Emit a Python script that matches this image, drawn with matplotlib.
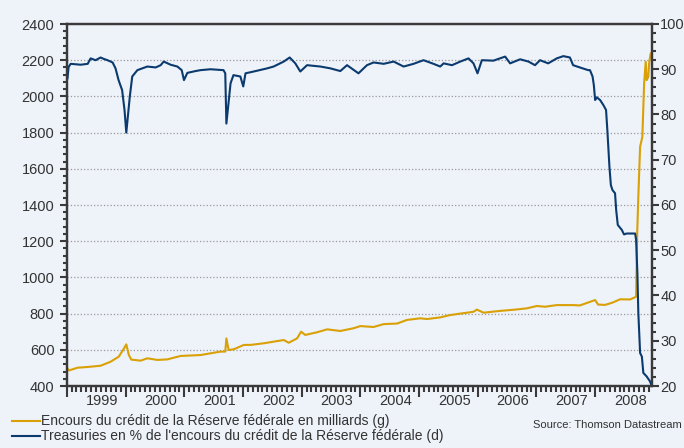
import matplotlib
matplotlib.use('Agg')
import matplotlib.pyplot as plt
import matplotlib.dates as mdates
import pandas as pd
from matplotlib.lines import Line2D
from matplotlib.ticker import MultipleLocator

plt.rcParams['font.family'] = ['Liberation Sans', 'DejaVu Sans']

# Encours du credit de la Fed (milliards $), axe gauche
credit_dates = ['1999-01-04', '1999-01-13', '1999-02-04', '1999-03-07', '1999-05-08', '1999-07-29',
                '1999-09-29', '1999-11-19', '1999-12-16', '2000-01-05', '2000-01-21', '2000-02-05',
                '2000-04-03', '2000-05-15', '2000-07-16', '2000-09-16', '2000-12-08', '2001-04-11',
                '2001-08-13', '2001-09-12', '2001-09-19', '2001-10-03', '2001-11-04', '2002-01-06',
                '2002-02-16', '2002-05-10', '2002-07-10', '2002-09-11', '2002-10-12', '2002-12-03',
                '2002-12-28', '2003-01-23', '2003-04-07', '2003-06-08', '2003-08-29', '2003-11-19',
                '2004-01-01', '2004-03-23', '2004-05-25', '2004-08-16', '2004-10-17', '2005-01-08',
                '2005-02-19', '2005-05-12', '2005-07-13', '2005-09-14', '2005-12-05', '2005-12-26',
                '2006-02-06', '2006-05-20', '2006-08-21', '2006-11-01', '2007-01-03', '2007-02-23',
                '2007-05-07', '2007-08-17', '2007-09-28', '2008-01-01', '2008-01-19', '2008-03-03',
                '2008-04-16', '2008-06-05', '2008-08-06', '2008-09-12', '2008-09-19', '2008-09-26',
                '2008-10-07', '2008-10-21', '2008-11-01', '2008-11-11', '2008-11-17', '2008-11-27',
                '2008-12-03', '2008-12-12']
credit_values = [498, 486, 492, 501, 505, 512, 534, 562, 599, 630, 571, 546, 540, 553, 544, 547, 566,
                 571, 590, 590, 663, 599, 603, 627, 627, 636, 645, 654, 639, 663, 700, 682, 697, 713,
                 704, 719, 731, 726, 742, 745, 765, 774, 770, 779, 792, 800, 810, 822, 805, 815, 822,
                 829, 842, 838, 847, 847, 845, 875, 850, 848, 860, 879, 878, 893, 1250, 1450, 1722,
                 1777, 2072, 2192, 2090, 2108, 2192, 2237]

# Treasuries en % de l'encours, axe droit
treas_dates = ['1999-01-04', '1999-01-11', '1999-01-24', '1999-03-27', '1999-05-10', '1999-05-28',
               '1999-06-28', '1999-07-29', '1999-08-17', '1999-09-10', '1999-10-12', '1999-10-30',
               '1999-11-18', '1999-12-10', '1999-12-25', '2000-01-05', '2000-01-27', '2000-02-11',
               '2000-03-14', '2000-05-15', '2000-07-06', '2000-08-06', '2000-08-25', '2000-10-07',
               '2000-11-18', '2000-12-15', '2000-12-29', '2001-01-19', '2001-03-11', '2001-04-11',
               '2001-06-12', '2001-09-01', '2001-09-12', '2001-09-19', '2001-10-15', '2001-11-02',
               '2001-12-15', '2002-01-02', '2002-01-16', '2002-03-08', '2002-05-31', '2002-07-10',
               '2002-09-11', '2002-10-18', '2002-11-22', '2002-12-23', '2003-02-03', '2003-04-27',
               '2003-06-28', '2003-08-29', '2003-10-10', '2003-12-20', '2004-02-11', '2004-03-23',
               '2004-05-25', '2004-07-26', '2004-09-26', '2004-11-27', '2005-01-28', '2005-03-31',
               '2005-05-12', '2005-06-02', '2005-07-24', '2005-09-14', '2005-11-04', '2005-12-05',
               '2005-12-30', '2006-01-26', '2006-04-08', '2006-06-20', '2006-07-21', '2006-09-21',
               '2006-11-12', '2006-12-23', '2007-01-23', '2007-03-15', '2007-05-07', '2007-06-17',
               '2007-07-28', '2007-08-17', '2007-09-28', '2007-11-19', '2007-11-30', '2007-12-16',
               '2007-12-24', '2008-01-01', '2008-01-11', '2008-02-01', '2008-02-21', '2008-03-09',
               '2008-03-17', '2008-03-30', '2008-04-08', '2008-04-18', '2008-05-04', '2008-05-11',
               '2008-05-21', '2008-06-15', '2008-06-29', '2008-07-16', '2008-09-06', '2008-09-12',
               '2008-09-20', '2008-09-26', '2008-10-07', '2008-10-18', '2008-10-27', '2008-11-17',
               '2008-12-08', '2008-12-14']
treas_values = [88.0, 90.5, 91.2, 91.0, 91.2, 92.4, 92.0, 92.6, 92.3, 92.0, 91.5, 90.2, 87.6, 85.4,
                81.0, 76.0, 84.0, 88.4, 89.8, 90.6, 90.4, 90.9, 91.7, 91.0, 90.6, 89.8, 87.6, 89.2,
                89.6, 89.8, 90.0, 89.8, 89.1, 78.0, 86.9, 88.7, 88.4, 86.2, 89.1, 89.5, 90.2, 90.6,
                91.7, 92.6, 91.3, 89.5, 90.9, 90.6, 90.2, 89.6, 90.9, 89.1, 90.9, 91.5, 91.2, 91.7,
                90.6, 91.2, 92.0, 91.2, 90.6, 91.3, 90.9, 91.7, 92.4, 91.3, 89.1, 92.0, 91.9, 92.8,
                91.3, 92.2, 91.7, 90.9, 92.0, 91.3, 92.4, 92.9, 92.6, 90.9, 90.4, 89.8, 89.8, 88.4,
                86.5, 83.2, 83.8, 83.2, 82.1, 81.0, 76.6, 68.5, 64.4, 63.3, 62.6, 58.9, 55.6, 54.5,
                53.5, 53.7, 53.7, 52.3, 45.0, 36.1, 27.3, 26.5, 22.9, 22.1, 21.0, 20.4]

years = list(range(1999, 2009))

bg = '#EEF2F9'
gold = '#D9A106'
navy = '#0B3A6E'
dark = '#3a3a3a'

fig = plt.figure(figsize=(6.84, 4.48), dpi=100, facecolor=bg)
ax = fig.add_axes([67/684, 62/448, 585/684, 362/448], facecolor=bg)
ax2 = ax.twinx()

ax.plot(pd.to_datetime(credit_dates), credit_values, color=gold, lw=1.5)
ax2.plot(pd.to_datetime(treas_dates), treas_values, color=navy, lw=1.5)

ax.set_xlim(pd.Timestamp('1999-01-01'), pd.Timestamp('2008-12-20'))
ax.set_ylim(400, 2400)
ax2.set_ylim(20, 100)

ax.yaxis.set_major_locator(MultipleLocator(200))
ax.yaxis.set_minor_locator(MultipleLocator(40))
ax2.yaxis.set_major_locator(MultipleLocator(10))
ax2.yaxis.set_minor_locator(MultipleLocator(2))
ax.xaxis.set_major_locator(mdates.YearLocator())
ax.xaxis.set_minor_locator(mdates.MonthLocator())
ax.xaxis.set_major_formatter(plt.NullFormatter())

ax.set_axisbelow(True)
ax.yaxis.grid(True, which='major', ls=':', color='#9a9a9a', lw=0.9)

for a in (ax, ax2):
    for s in a.spines.values():
        s.set_color(dark)
        s.set_linewidth(1.6)
    a.tick_params(which='both', direction='out', color=dark, width=1.5,
                  labelcolor='#333333', labelsize=10.5)
    a.tick_params(axis='y', which='major', length=5)
    a.tick_params(axis='y', which='minor', length=3)
ax.tick_params(axis='y', pad=4)
ax2.tick_params(axis='y', pad=1)
ax.tick_params(axis='x', which='major', length=8)
ax.tick_params(axis='x', which='minor', length=4)

# annees au milieu de chaque annee
for yr in years:
    ax.annotate(str(yr), xy=(pd.Timestamp(f'{yr}-08-08'), 0), xycoords=('data', 'axes fraction'),
                xytext=(0, -6), textcoords='offset points', ha='center', va='top',
                fontsize=10.5, color='#333333')

# legende manuelle en bas
fig.add_artist(Line2D([12/684, 40/684], [0.0603, 0.0603], color=gold, lw=1.5))
fig.text(41/684, 0.0603, 'Encours du crédit de la Réserve fédérale en milliards (g)',
         fontsize=10, color='#333333', va='center')
fig.add_artist(Line2D([12/684, 40/684], [0.0257, 0.0257], color=navy, lw=1.5))
fig.text(41/684, 0.0257, "Treasuries en % de l'encours du crédit de la Réserve fédérale (d)",
         fontsize=10, color='#333333', va='center')
fig.text(682/684, 0.0513, 'Source: Thomson Datastream', fontsize=8, color='#333333',
         ha='right', va='center')

fig.savefig('out.png', dpi=100, facecolor=bg)
